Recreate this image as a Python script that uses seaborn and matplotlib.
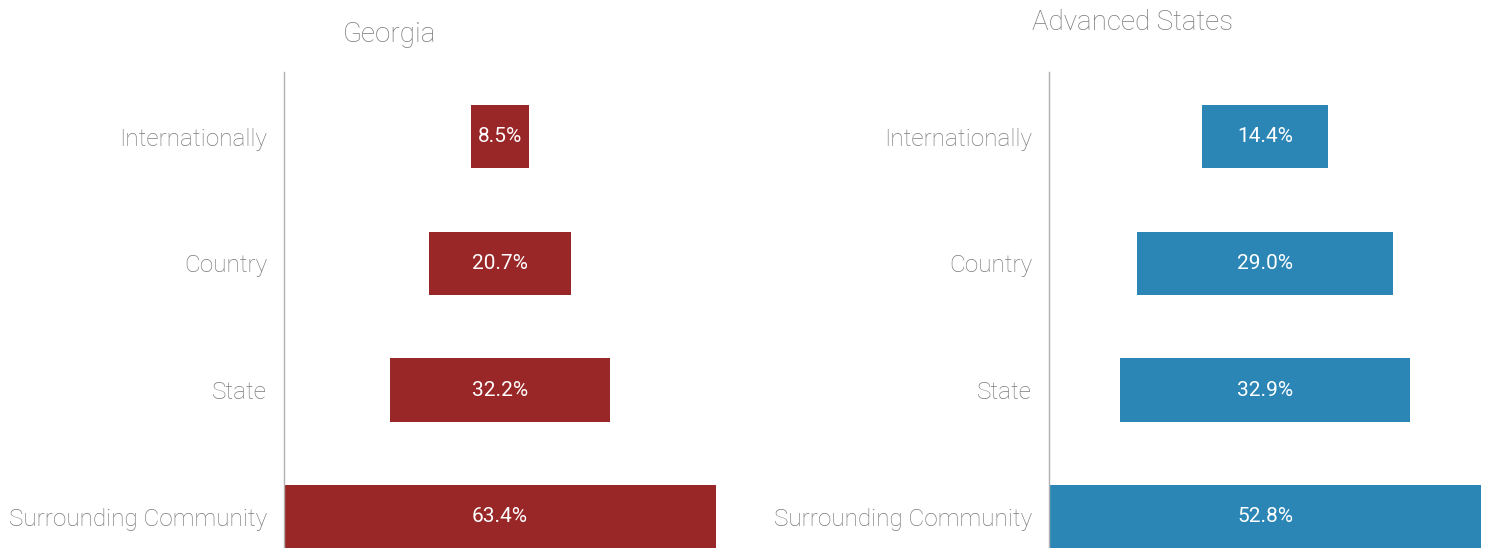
import matplotlib
matplotlib.use("Agg")
import matplotlib.pyplot as plt
import seaborn as sns
import pandas as pd

categories = ["Internationally", "Country", "State", "Surrounding Community"]
georgia = [8.5, 20.7, 32.2, 63.4]
advanced = [14.4, 29.0, 32.9, 52.8]
titles = ["Georgia", "Advanced States"]

RED = "#9A2728"
BLUE = "#2B86B5"
GRAY = "#7a7a7a"

sns.set_theme(style="white")
plt.rcParams["font.family"] = ["Roboto", "DejaVu Sans"]

fig = plt.figure(figsize=(14.91, 5.48), dpi=100)
W, H = 1491, 548
ax_h = 476 / H
axes = [
    fig.add_axes([284 / W, 0, 432 / W, ax_h]),
    fig.add_axes([1049 / W, 0, 432 / W, ax_h]),
]


def funnel(ax, values, color, half_range):
    df = pd.DataFrame({"cat": categories, "v": values})
    df["right"] = df["v"] / 2
    df["left"] = -df["v"] / 2
    # two half-bars from zero make one bar centred on the axis midpoint
    for col in ("right", "left"):
        sns.barplot(data=df, x=col, y="cat", orient="h", color=color,
                    width=0.5, saturation=1, ax=ax, linewidth=0)
    for i, v in enumerate(values):
        ax.text(0, i, f"{v:.1f}%", ha="center", va="center", color="white",
                fontsize=15, fontweight="normal")
    ax.set_xlim(-half_range, half_range)
    ax.set_ylim(3.245, -0.51)
    ax.set_xlabel("")
    ax.set_ylabel("")
    ax.set_xticks([])
    ax.tick_params(axis="y", length=0, pad=12, labelsize=17.5, labelcolor=GRAY)
    for lbl in ax.get_yticklabels():
        lbl.set_fontweight("light")
    for s in ("top", "right", "bottom"):
        ax.spines[s].set_visible(False)
    ax.spines["left"].set_color("#b0b0b0")
    ax.spines["left"].set_linewidth(1)
    ax.patch.set_alpha(0)


funnel(axes[0], georgia, RED, 31.7)
funnel(axes[1], advanced, BLUE, 24.55)

fig.text(389 / W, 1 - 35 / H, titles[0], ha="center", va="center",
         fontsize=20, color=GRAY, fontweight="light")
fig.text(1133 / W, 1 - 22 / H, titles[1], ha="center", va="center",
         fontsize=20, color=GRAY, fontweight="light")

fig.savefig("out.png", dpi=100, facecolor="white")
